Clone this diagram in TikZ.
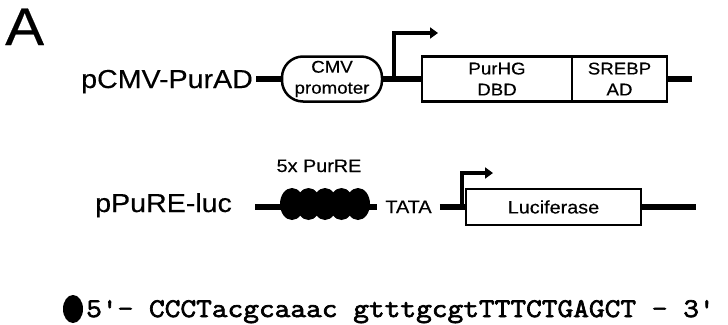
\documentclass[tikz,border=0pt]{standalone}
\usepackage{fontspec}
\setmainfont{Liberation Sans}
\newfontfamily\lblfont[FakeStretch=1.1,FakeBold=0.4]{Liberation Sans}
\newfontfamily\seqfont[FakeStretch=1.13,FakeBold=2.6]{Latin Modern Mono}
\usetikzlibrary{positioning,arrows.meta,shapes.geometric}

\begin{document}
\begin{tikzpicture}[x=1pt, y=-1pt, >={Triangle[length=8pt,width=11pt]},
  dna/.style={line width=6pt},
  tss/.style={line width=4.5pt, ->},
  lbl/.style={inner sep=3pt, font=\lblfont\fontsize{26}{30}\selectfont},
  lblsmall/.style={font=\lblfont\fontsize{18}{21}\selectfont},
  part/.style={draw, line width=2.5pt, minimum height=45pt, inner sep=0pt,
               outer sep=0pt, align=center,
               font=\lblfont\fontsize{17}{21}\selectfont},
  promoterbox/.style={draw, line width=2.5pt, rounded corners=21pt,
               minimum width=100pt, minimum height=45pt, inner sep=0pt,
               align=center, font=\lblfont\fontsize{17}{21}\selectfont},
  purre/.style={ellipse, fill=black, minimum width=24pt,
               minimum height=32pt, inner sep=0pt}]
  \useasboundingbox (0,0) rectangle (728,324);

  \node (panel) [anchor=base west, font=\lblfont\fontsize{53}{60}\selectfont,
                 inner sep=0pt] at (5,45) {A};

  % pCMV-PurAD
  \node (pcmv) [lbl, anchor=base west] at (78,88) {pCMV-PurAD};
  \node (cmv)  [promoterbox] at (332,79) {CMV\\promoter};
  \node (dbd)  [part, minimum width=150pt] at (497,79) {PurHG\\DBD};
  \node (ad)   [part, minimum width=95pt, right=0pt of dbd] {SREBP\\AD};
  \coordinate (tss1)    at (394,79);
  \coordinate (tss1end) at (438,33);
  \coordinate (end1)    at (692,79);
  \draw[dna] (pcmv.east |- cmv) -- (cmv);
  \draw[dna] (cmv) -- (dbd);
  \draw[dna] (ad) -- (end1);
  \draw[tss] (tss1) |- (tss1end);

  % pPuRE-luc
  \node (pure) [lbl, anchor=base west] at (92,212) {pPuRE-luc};
  \coordinate (start2) at (255,207);
  \node (tata) [lblsmall, anchor=base, inner xsep=8pt] at (408.5,213) {TATA};
  \node (luc)  [part, minimum width=175pt, minimum height=36pt,
                font=\lblfont\fontsize{18}{21}\selectfont] at (553.5,207)
    {Luciferase};
  \coordinate (tss2)    at (462,207);
  \coordinate (tss2end) at (493,173);
  \coordinate (end2)    at (696,207);
  \draw[dna] (start2) -- (tata.west |- start2);
  \draw[dna] (tata.east |- start2) -- (luc);
  \draw[dna] (luc) -- (end2);
  \foreach \i in {1,...,5}
    \node (pre\i) [purre] at ({275.5+16.5*\i},204) {};
  \node (purrelbl) [lblsmall, anchor=base] at (319,172) {5x PurRE};
  \draw[tss] (tss2) |- (tss2end);

  % PurRE sequence
  \node (dot) [purre, minimum width=20pt, minimum height=28pt] at (73,309) {};
  \node (seq) [anchor=base west, inner sep=0pt,
               font=\seqfont\fontsize{27}{30}\selectfont]
    at (86,317) {5'- CCCTacgcaaac gtttgcgtTTTCTGAGCT - 3'};
\end{tikzpicture}
\end{document}
